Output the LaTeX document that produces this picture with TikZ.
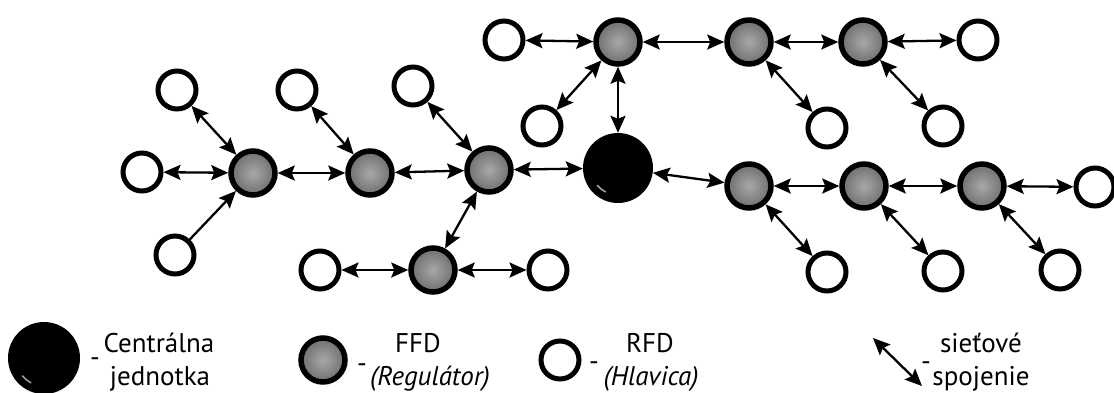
\documentclass[tikz,border=0pt]{standalone}
\usepackage{fontspec}
\setmainfont{PT Sans}
\usetikzlibrary{arrows.meta}
\definecolor{ffdin}{HTML}{A8A8A8}
\definecolor{ffdout}{HTML}{6E6E6E}
\tikzset{
  ffd/.style={circle, draw=black, line width=5.5pt, minimum size=44pt, inner sep=0pt, inner color=ffdin, outer color=ffdout},
  rfd/.style={circle, draw=black, line width=5pt, fill=white, minimum size=38pt, inner sep=0pt},
  cen/.style={circle, fill=black, minimum size=70pt, inner sep=0pt},
  link/.style={{Stealth[length=17pt,width=15pt,inset=3pt]}-{Stealth[length=17pt,width=15pt,inset=3pt]}, line width=2.3pt},
  linkone/.style={-{Stealth[length=17pt,width=15pt,inset=3pt]}, line width=2.3pt},
  lbl/.style={font=\fontsize{27}{30}\selectfont, inner sep=0pt, anchor=base},
  lbli/.style={lbl, font=\fontsize{27}{30}\selectfont\itshape},
  dashlbl/.style={font=\fontsize{27}{30}\selectfont, inner sep=0pt, anchor=center},
}
\begin{document}
\begin{tikzpicture}[x=1pt,y=-1pt]
\useasboundingbox (0,0) rectangle (1114,392);
% central
\node[cen] (C) at (618,168) {};
% gray nodes
\node[ffd] (G1) at (253,173) {};
\node[ffd] (G2) at (370,173) {};
\node[ffd] (G3) at (489,170) {};
\node[ffd] (G4) at (433,270) {};
\node[ffd] (T1) at (618,42) {};
\node[ffd] (T2) at (749,42) {};
\node[ffd] (T3) at (863,42) {};
\node[ffd] (R1) at (749,186) {};
\node[ffd] (R2) at (864,186) {};
\node[ffd] (R3) at (982,186) {};
% white nodes
\node[rfd] (wA) at (142,172) {};
\node[rfd] (wB) at (177,90) {};
\node[rfd] (wC) at (175,255) {};
\node[rfd] (wD) at (297,90) {};
\node[rfd] (wE) at (413,86) {};
\node[rfd] (wF) at (320,270) {};
\node[rfd] (wG) at (548,270) {};
\node[rfd] (wH) at (504,40) {};
\node[rfd] (wI) at (542,126) {};
\node[rfd] (wJ) at (827,128) {};
\node[rfd] (wK) at (978,40) {};
\node[rfd] (wL) at (943,126) {};
\node[rfd] (wM) at (827,272) {};
\node[rfd] (wN) at (943,271) {};
\node[rfd] (wO) at (1060,270) {};
\node[rfd] (wP) at (1095,187) {};
% highlight on central node
\draw[gray!70, line width=1.5pt, line cap=round] (C.center) ++(118:27) arc[start angle=118, end angle=140, radius=27];
% connections
\draw[link] (wA) -- (G1);
\draw[link] (wB) -- (G1);
\draw[linkone] (wC) -- (G1);
\draw[link] (G1) -- (G2);
\draw[link] (wD) -- (G2);
\draw[link] (G2) -- (G3);
\draw[link] (wE) -- (G3);
\draw[link] (G3) -- (G4);
\draw[link] (wF) -- (G4);
\draw[link] (G4) -- (wG);
\draw[link] (G3) -- (C);
\draw[link] (T1) -- (C);
\draw[link] (wH) -- (T1);
\draw[link] (wI) -- (T1);
\draw[link] (T1) -- (T2);
\draw[link] (T2) -- (wJ);
\draw[link] (T2) -- (T3);
\draw[link] (T3) -- (wK);
\draw[link] (T3) -- (wL);
\draw[link] (C) -- (R1);
\draw[link] (R1) -- (R2);
\draw[link] (R2) -- (R3);
\draw[link] (R3) -- (wP);
\draw[link] (R1) -- (wM);
\draw[link] (R2) -- (wN);
\draw[link] (R3) -- (wO);
% legend
\node[cen, minimum size=72pt] (LC) at (44,358) {};
\draw[gray!70, line width=1.5pt, line cap=round] (LC.center) ++(118:28) arc[start angle=118, end angle=140, radius=28];
\node[dashlbl] (d1) at (95,362) {-};
\node[lbl] (t1a) at (159,352) {Centrálna};
\node[lbl] (t1b) at (160,385) {jednotka};
\node[ffd] (LG) at (323,360) {};
\node[dashlbl] (d2) at (362,368) {-};
\node[lbl] (t2a) at (418,352) {FFD};
\node[lbli] (t2b) at (430,385) {(Regulátor)};
\node[rfd] (LW) at (560,360) {};
\node[dashlbl] (d3) at (594,366) {-};
\node[lbl] (t3a) at (650,352) {RFD};
\node[lbli] (t3b) at (651,385) {(Hlavica)};
\coordinate (la) at (873,338);
\coordinate (lb) at (922,386);
\draw[link] (la) -- (lb);
\node[dashlbl] (d4) at (926,366) {-};
\node[lbl] (t4a) at (981,352) {sieťové};
\node[lbl] (t4b) at (981,385) {spojenie};
\end{tikzpicture}
\end{document}
